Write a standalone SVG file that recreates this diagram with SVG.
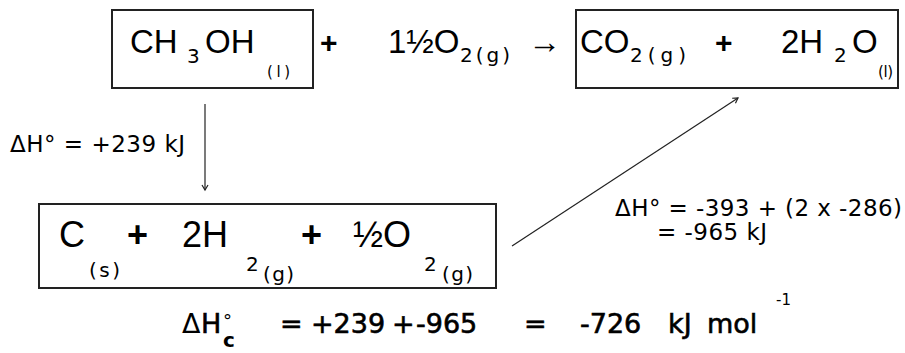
<svg xmlns="http://www.w3.org/2000/svg" width="905" height="353" viewBox="0 0 905 353">
<style>
.box{fill:none;stroke:#222;stroke-width:2}
.big{font-family:"Liberation Sans",Arial,sans-serif;font-size:33px;fill:#000}
.big3{font-family:"Liberation Sans",Arial,sans-serif;font-size:36px;fill:#000}
.sub{font-family:"DejaVu Sans",Verdana,sans-serif;font-size:20px;fill:#000}
.st{font-family:"DejaVu Sans",Verdana,sans-serif;font-size:15px;fill:#000}
.plus{font-family:"Liberation Sans",Arial,sans-serif;font-size:30px;font-weight:bold;fill:#000}
.plus3{font-family:"Liberation Sans",Arial,sans-serif;font-size:36px;font-weight:bold;fill:#000}
.lbl{font-family:"DejaVu Sans",Verdana,sans-serif;font-size:23px;fill:#000}
.res{font-family:"DejaVu Sans",Verdana,sans-serif;font-size:27px;fill:#000;stroke:#000;stroke-width:0.6}
.conn{stroke:#222;stroke-width:1.2;fill:none}
</style>
<defs>
<marker id="ah" markerWidth="8" markerHeight="8" refX="6" refY="4" orient="auto" markerUnits="userSpaceOnUse">
<path d="M1,1 L6,4 L1,7" fill="none" stroke="#222" stroke-width="1.2"/>
</marker>
</defs>
<rect width="905" height="353" fill="#fff"/>

<g id="reactant">
<rect class="box" x="112" y="10" width="201" height="78"/>
<text class="big" x="130" y="53">CH</text>
<text class="sub" x="187" y="63">3</text>
<text class="big" x="205" y="53">OH</text>
<text class="st" x="267" y="77" textLength="23">(l)</text>
</g>

<g id="oxygen">
<text class="plus" x="320" y="53">+</text>
<text class="big" x="388" y="53">1½O</text>
<text class="sub" x="460" y="62" textLength="50">2(g)</text>
<text class="big" x="528" y="53">→</text>
</g>

<g id="products">
<rect class="box" x="576" y="10" width="322" height="78"/>
<text class="big" x="580" y="53">CO</text>
<text class="sub" x="630" y="62" textLength="56">2(g)</text>
<text class="plus" x="715" y="53">+</text>
<text class="big" x="781" y="53">2H</text>
<text class="sub" x="834" y="62">2</text>
<text class="big" x="852" y="53">O</text>
<text class="st" x="878" y="77" textLength="15">(l)</text>
</g>

<g id="elements">
<rect class="box" x="39" y="204" width="457" height="84"/>
<text class="big3" x="59" y="247">C</text>
<text class="sub" x="89" y="277" textLength="31">(s)</text>
<text class="plus3" x="127" y="247">+</text>
<text class="big3" x="182" y="247">2H</text>
<text class="sub" x="246" y="271">2</text>
<text class="sub" x="263" y="281" textLength="31">(g)</text>
<text class="plus3" x="301" y="247">+</text>
<text class="big3" x="353" y="247">½O</text>
<text class="sub" x="424" y="271">2</text>
<text class="sub" x="442" y="281" textLength="31">(g)</text>
</g>

<g id="connectors">
<line class="conn" x1="205" y1="104" x2="205" y2="190" marker-end="url(#ah)"/>
<line class="conn" x1="512" y1="246" x2="738" y2="98" marker-end="url(#ah)"/>
</g>

<g id="label-atomisation">
<text class="lbl" x="10" y="152" textLength="175">ΔH° = +239 kJ</text>
</g>

<g id="label-formation">
<text class="lbl" x="615" y="216" textLength="287">ΔH° = -393 + (2 x -286)</text>
<text class="lbl" x="657" y="240" textLength="110">= -965 kJ</text>
</g>

<g id="result">
<text class="res" x="182" y="333" style="stroke-width:0">Δ</text>
<text class="res" x="201" y="333">H</text>
<text class="res" x="223" y="327" style="font-size:18px;stroke-width:0">°</text>
<text class="res" x="223" y="347" style="font-size:20px;font-weight:bold;stroke-width:0">c</text>
<text class="res" y="333"><tspan x="280">=</tspan><tspan x="311">+239</tspan><tspan x="392">+</tspan><tspan x="416">-965</tspan><tspan x="524">=</tspan><tspan x="580">-726</tspan><tspan x="668">kJ</tspan><tspan x="707">mol</tspan></text>
<text class="res" x="776" y="305" style="font-size:15px;stroke-width:0">-1</text>
</g>
</svg>
